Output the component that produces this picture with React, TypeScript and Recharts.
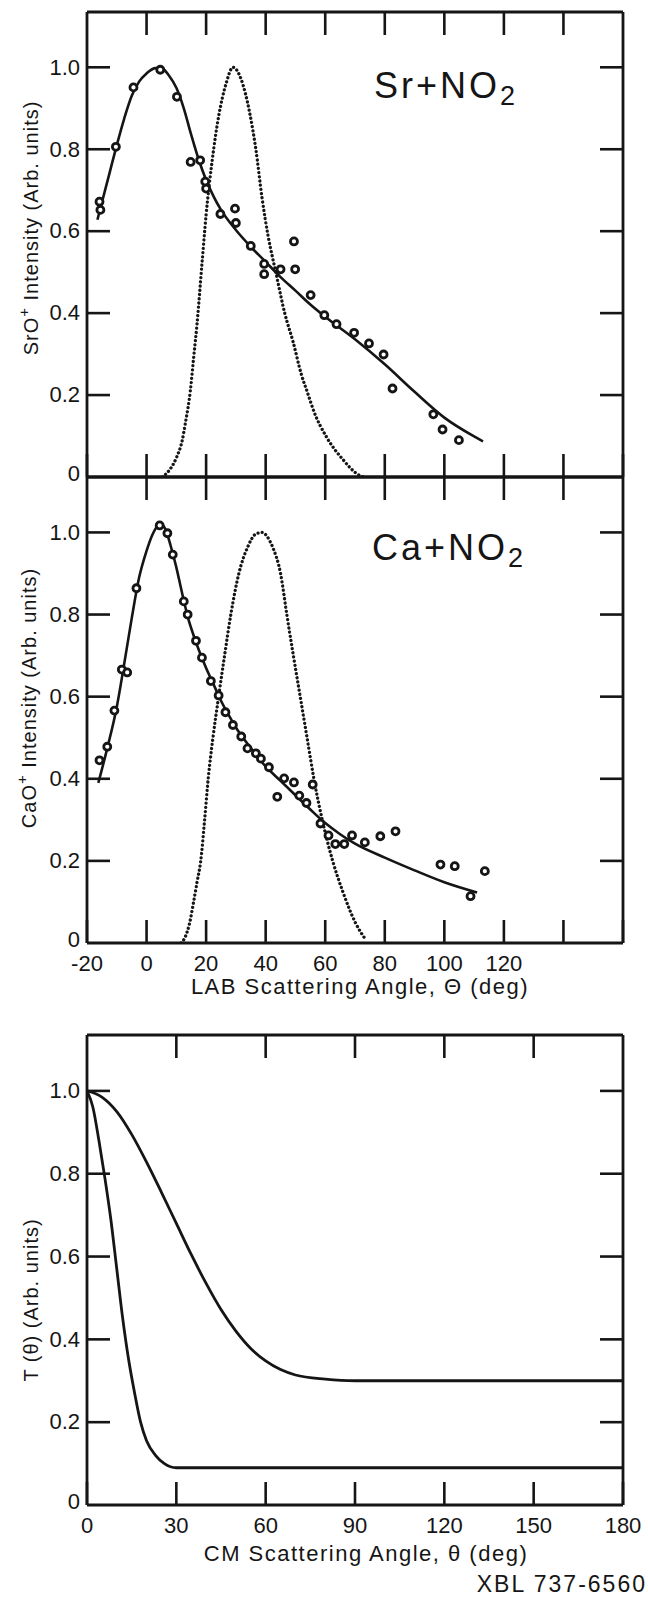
import React from 'react';
import { ComposedChart, Line, Scatter, XAxis, YAxis } from 'recharts';

// axis ticks
const labAngleTicks = [-20, 0, 20, 40, 60, 80, 100, 120, 140, 160];
const labInnerTicks = [0, 20, 40, 60, 80, 100, 120, 140];
const cmAngleTicks = [0, 30, 60, 90, 120, 150, 180];
const cmInnerTicks = [30, 60, 90, 120, 150];
const intensityTicks = [0, 0.2, 0.4, 0.6, 0.8, 1.0];

// Sr + NO2 : measured SrO+ intensity vs LAB angle
const srPoints = [
  [-15.8, 0.672], [-15.5, 0.652], [-10.3, 0.806], [-4.4, 0.951], [4.6, 0.994],
  [10.2, 0.928], [14.8, 0.769], [18.0, 0.773], [19.7, 0.721], [20.0, 0.704],
  [24.8, 0.642], [29.7, 0.655], [30.0, 0.62], [35.0, 0.564], [39.5, 0.52],
  [39.5, 0.495], [45.0, 0.507], [49.5, 0.575], [49.9, 0.507], [55.1, 0.444],
  [59.7, 0.395], [63.8, 0.373], [69.7, 0.352], [74.7, 0.326], [79.6, 0.299],
  [82.6, 0.216], [96.3, 0.153], [99.4, 0.116], [104.9, 0.09],
];
const srFit = [
  [-16.5, 0.628], [-15, 0.67], [-12.5, 0.74], [-10, 0.81], [-7.5, 0.875], [-5, 0.93],
  [-2.5, 0.965], [0, 0.985], [3, 0.998], [5, 0.998], [7.5, 0.98], [10, 0.95],
  [12.5, 0.9], [15, 0.835], [17.5, 0.775], [20, 0.725], [22.5, 0.685], [25, 0.652],
  [30, 0.603], [35, 0.562], [40, 0.525], [45, 0.488], [50, 0.455], [55, 0.421],
  [60, 0.391], [70, 0.336], [80, 0.275], [90, 0.208], [100, 0.145], [110, 0.099], [113, 0.087],
];
const srBeam = [
  [5.3, 0], [6, 0.004], [8, 0.02], [10.2, 0.05], [12, 0.09], [13, 0.13], [14.7, 0.21],
  [15.8, 0.29], [16.9, 0.37], [18.6, 0.52], [20, 0.64], [22, 0.77], [24.2, 0.88],
  [26.7, 0.96], [29, 1.0], [31.8, 0.97], [34.6, 0.89], [36.7, 0.8], [38.8, 0.68],
  [40.9, 0.585], [43.4, 0.5], [46.4, 0.4], [49.2, 0.33], [52, 0.25], [54.1, 0.205],
  [56.2, 0.16], [60.4, 0.098], [65.9, 0.043], [71.5, 0.004], [73, 0],
];

// Ca + NO2 : measured CaO+ intensity vs LAB angle
const caPoints = [
  [-15.8, 0.445], [-13.2, 0.478], [-10.8, 0.566], [-8.3, 0.666], [-6.5, 0.659],
  [-3.4, 0.864], [4.4, 1.017], [7.0, 0.998], [8.8, 0.946], [12.5, 0.832],
  [13.8, 0.8], [16.6, 0.736], [18.6, 0.695], [21.6, 0.638], [24.2, 0.603],
  [26.5, 0.562], [29.0, 0.531], [31.8, 0.503], [33.9, 0.474], [36.7, 0.462],
  [38.4, 0.449], [41.1, 0.428], [43.9, 0.356], [46.2, 0.401], [49.5, 0.391],
  [51.3, 0.359], [53.7, 0.341], [55.8, 0.386], [58.4, 0.291], [61.1, 0.262],
  [63.4, 0.241], [66.4, 0.241], [69.0, 0.262], [73.3, 0.245], [78.5, 0.26],
  [83.6, 0.272], [98.7, 0.191], [103.5, 0.187], [108.8, 0.114], [113.6, 0.175],
];
const caFit = [
  [-16.2, 0.39], [-13, 0.48], [-10, 0.575], [-7.5, 0.68], [-5, 0.79], [-2.5, 0.89],
  [0, 0.955], [2, 0.995], [4, 1.018], [5, 1.02], [6.5, 1.005], [8, 0.97], [10, 0.915],
  [12, 0.85], [14, 0.79], [16, 0.745], [18, 0.705], [20, 0.67], [22.5, 0.63],
  [25, 0.59], [27.5, 0.556], [30, 0.525], [35, 0.475], [40, 0.43], [45, 0.395],
  [50, 0.36], [55, 0.325], [60, 0.292], [65, 0.265], [70, 0.242], [80, 0.208],
  [90, 0.177], [100, 0.148], [111, 0.123],
];
const caBeam = [
  [11.6, 0], [13, 0.015], [14.5, 0.05], [15.8, 0.1], [17, 0.15], [18.2, 0.2],
  [19.5, 0.3], [20.7, 0.4], [22.3, 0.5], [24.2, 0.6], [26.2, 0.7], [28.3, 0.8],
  [31, 0.9], [34, 0.965], [36.5, 0.995], [38.8, 1.0], [40.5, 0.99], [42.3, 0.965],
  [45, 0.9], [47.1, 0.8], [49.3, 0.7], [51.6, 0.6], [53.9, 0.5], [56.2, 0.4],
  [59, 0.3], [62.5, 0.2], [65.9, 0.125], [70.1, 0.05], [73.6, 0.008],
];

// T(theta) vs CM angle
const tBroad = [
  [0, 1.0], [5, 0.985], [10, 0.95], [15, 0.895], [20, 0.828], [25, 0.755], [30, 0.68],
  [35, 0.605], [40, 0.535], [45, 0.472], [50, 0.42], [55, 0.378], [60, 0.348],
  [65, 0.327], [70, 0.314], [80, 0.304], [90, 0.3], [180, 0.3],
];
const tNarrow = [
  [0, 1.0], [2, 0.96], [4, 0.88], [6, 0.79], [8, 0.69], [10, 0.57], [12, 0.45],
  [14, 0.35], [16, 0.27], [18, 0.2], [20, 0.155], [23, 0.12], [26, 0.1], [30, 0.09],
  [180, 0.09],
];

const pairs = (a: number[][]) => a.map(([x, y]) => ({ x, y }));

const INK = '#151515';
const FONT = '"Liberation Sans", Arial, sans-serif';
const Y_MAX = 1.135;
const TICK = 23;
const axisStroke = { stroke: INK, strokeWidth: 2.8 };

const yFmt = (v: number) => (v === 0 ? '0' : v.toFixed(1));

const mark = (x1: number, y1: number, x2: number, y2: number) => (
  <line x1={x1} y1={y1} x2={x2} y2={y2} stroke={INK} strokeWidth={2.6} />
);

// ticks point into the plot; labels sit outside the frame
const LeftTick = (p: any) => (
  <g>
    {p.payload.value > 0 ? mark(p.x, p.y, p.x + TICK, p.y) : null}
    <text
      x={p.x - 7}
      y={p.y}
      dy={p.payload.value > 0 ? '0.33em' : '0.18em'}
      textAnchor="end"
      fontSize={22}
      fontFamily={FONT}
      fill={INK}
    >
      {yFmt(p.payload.value)}
    </text>
  </g>
);
const RightTick = (p: any) => (p.payload.value > 0 ? mark(p.x, p.y, p.x - TICK, p.y) : <g />);
const TopTick = (p: any) => mark(p.x, p.y, p.x, p.y + TICK);
const bottomTick = (maxLabel: number) => (p: any) => (
  <g>
    {mark(p.x, p.y, p.x, p.y - TICK)}
    {p.payload.value <= maxLabel ? (
      <text x={p.x} y={p.y + 12} dy="0.71em" textAnchor="middle" fontSize={22} fontFamily={FONT} fill={INK}>
        {p.payload.value}
      </text>
    ) : null}
  </g>
);

const ring = (p: any) => (
  <circle cx={p.cx} cy={p.cy} r={3.5} fill="#fff" stroke={INK} strokeWidth={2.8} />
);

const YTitle = ({ px, py, lead, sup, tail }: any) => (
  <text
    transform={`translate(${px},${py}) rotate(-90)`}
    dy="0.35em"
    textAnchor="middle"
    fontFamily={FONT}
    fontSize={20}
    letterSpacing={1}
    fill={INK}
  >
    {lead}
    {sup ? <tspan dy={-9} fontSize={15}>{sup}</tspan> : null}
    <tspan dy={sup ? 9 : 0}>{tail}</tspan>
  </text>
);

const XTitle = ({ px, py, txt }: any) => (
  <text x={px} y={py} textAnchor="middle" fontFamily={FONT} fontSize={22} letterSpacing={1.5} fill={INK}>
    {txt}
  </text>
);

const Formula = ({ px, py, main, sub }: any) => (
  <text x={px} y={py} fontFamily={FONT} fontSize={36} letterSpacing={3} fill={INK}>
    {main}
    <tspan fontSize={27} dy={7}>{sub}</tspan>
  </text>
);

const frame = (
  xDomain: number[],
  xTicks: number[],
  innerTicks: number[],
  bottomHeight: number,
  maxLabel: number,
  xLabel: any,
  topLabel: any,
  yLabel: any
) => [
  <XAxis
    key="xb"
    xAxisId={0}
    type="number"
    dataKey="x"
    domain={xDomain}
    ticks={xTicks}
    interval={0}
    allowDataOverflow
    height={bottomHeight}
    axisLine={axisStroke}
    tickLine={false}
    tickSize={0}
    tickMargin={0}
    tick={bottomTick(maxLabel)}
    label={xLabel}
  />,
  <XAxis
    key="xt"
    xAxisId="t"
    orientation="top"
    type="number"
    dataKey="x"
    domain={xDomain}
    ticks={innerTicks}
    interval={0}
    allowDataOverflow
    height={1}
    axisLine={axisStroke}
    tickLine={false}
    tickSize={0}
    tickMargin={0}
    tick={TopTick}
    label={topLabel}
  />,
  <YAxis
    key="yl"
    yAxisId={0}
    type="number"
    dataKey="y"
    domain={[0, Y_MAX]}
    ticks={intensityTicks}
    interval={0}
    allowDataOverflow
    width={87}
    axisLine={axisStroke}
    tickLine={false}
    tickSize={0}
    tickMargin={0}
    tick={LeftTick}
    label={yLabel}
  />,
  <YAxis
    key="yr"
    yAxisId="r"
    orientation="right"
    type="number"
    dataKey="y"
    domain={[0, Y_MAX]}
    ticks={intensityTicks}
    interval={0}
    allowDataOverflow
    width={1}
    axisLine={axisStroke}
    tickLine={false}
    tickSize={0}
    tickMargin={0}
    tick={RightTick}
  />,
];

const dotted = {
  stroke: INK,
  strokeWidth: 3.3,
  strokeDasharray: '0.01 4.2',
  strokeLinecap: 'round' as const,
};

export default function App() {
  return (
    <div style={{ position: 'absolute', left: 0, top: 0, width: 648, height: 1598, background: '#fff' }}>
      <div style={{ position: 'absolute', left: 0, top: 0 }}>
        <ComposedChart width={648} height={495} margin={{ top: 11, right: 24, bottom: 0, left: 0 }}>
          {frame(
            [-20, 160],
            labAngleTicks,
            labInnerTicks,
            18,
            -1000,
            undefined,
            <Formula px={374} py={98} main="Sr+NO" sub="2" />,
            <YTitle px={31} py={228} lead="SrO" sup="+" tail=" Intensity (Arb. units)" />
          )}
          <Line data={pairs(srBeam)} xAxisId="t" yAxisId="r" dataKey="y" type="monotone" dot={false} activeDot={false} isAnimationActive={false} {...dotted} />
          <Line data={pairs(srFit)} dataKey="y" type="monotone" dot={false} activeDot={false} stroke={INK} strokeWidth={2.6} isAnimationActive={false} />
          <Scatter data={pairs(srPoints)} shape={ring} isAnimationActive={false} />
        </ComposedChart>
      </div>

      <div style={{ position: 'absolute', left: 0, top: 467 }}>
        <ComposedChart width={648} height={533} margin={{ top: 9, right: 24, bottom: 0, left: 0 }}>
          {frame(
            [-20, 160],
            labAngleTicks,
            labInnerTicks,
            57,
            120,
            <XTitle px={360} py={527} txt="LAB Scattering Angle, Θ (deg)" />,
            <Formula px={372} py={93} main="Ca+NO" sub="2" />,
            <YTitle px={29} py={231} lead="CaO" sup="+" tail=" Intensity  (Arb. units)" />
          )}
          <Line data={pairs(caBeam)} xAxisId="t" yAxisId="r" dataKey="y" type="monotone" dot={false} activeDot={false} isAnimationActive={false} {...dotted} />
          <Line data={pairs(caFit)} dataKey="y" type="monotone" dot={false} activeDot={false} stroke={INK} strokeWidth={2.6} isAnimationActive={false} />
          <Scatter data={pairs(caPoints)} shape={ring} isAnimationActive={false} />
        </ComposedChart>
      </div>

      <div style={{ position: 'absolute', left: 0, top: 1025 }}>
        <ComposedChart width={648} height={573} margin={{ top: 9, right: 24, bottom: 0, left: 0 }}>
          {frame(
            [0, 180],
            cmAngleTicks,
            cmInnerTicks,
            93,
            180,
            <XTitle px={366} py={536} txt="CM Scattering Angle, θ (deg)" />,
            undefined,
            <YTitle px={31} py={275} lead="T (θ) (Arb. units)" tail="" />
          )}
          <Line data={pairs(tBroad)} dataKey="y" type="monotone" dot={false} activeDot={false} stroke={INK} strokeWidth={2.8} isAnimationActive={false} />
          <Line data={pairs(tNarrow)} xAxisId="t" yAxisId="r" dataKey="y" type="monotone" dot={false} activeDot={false} stroke={INK} strokeWidth={2.8} isAnimationActive={false} />
        </ComposedChart>
      </div>

      <div
        style={{
          position: 'absolute',
          right: 1,
          top: 1573,
          fontFamily: FONT,
          fontSize: 23,
          lineHeight: 1,
          letterSpacing: 2,
          color: INK,
        }}
      >
        XBL 737-6560
      </div>
    </div>
  );
}
